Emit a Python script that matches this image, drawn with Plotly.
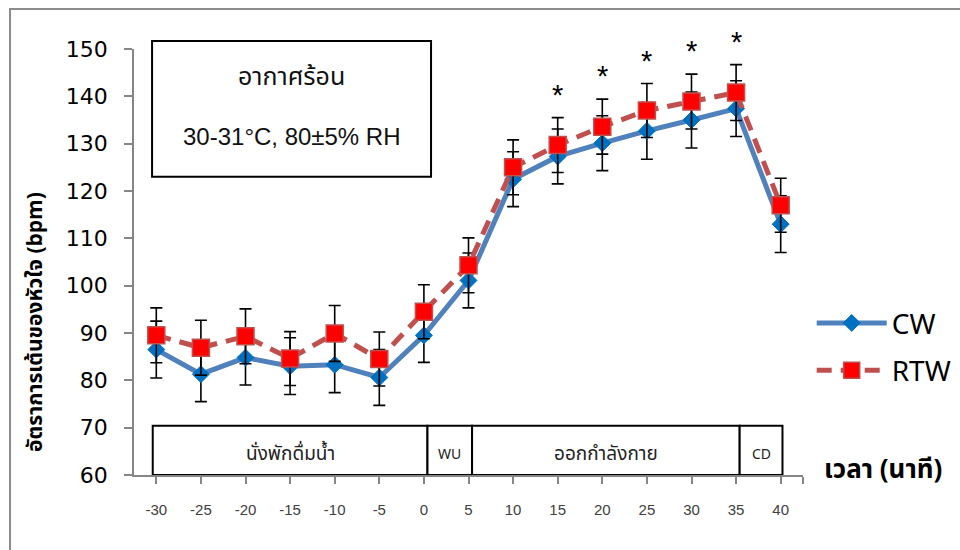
import plotly.graph_objects as go

# Heart rate over time (minutes), mean ± SD for two drinking conditions
minutes = [-30, -25, -20, -15, -10, -5, 0, 5, 10, 15, 20, 25, 30, 35, 40]
cw = [86.5, 81.3, 84.8, 83.0, 83.3, 80.6, 89.5, 101.1, 122.5, 127.3, 130.1, 132.7, 135.0, 137.4, 113.0]
cw_sd = [6.0, 5.8, 5.8, 6.0, 5.9, 5.9, 5.7, 5.8, 5.8, 5.8, 5.8, 6.0, 5.9, 5.9, 6.0]
rtw = [89.5, 86.9, 89.3, 84.6, 89.9, 84.5, 94.5, 104.3, 125.0, 129.7, 133.6, 137.0, 138.9, 140.8, 117.0]
rtw_sd = [5.8, 5.8, 5.8, 5.7, 5.9, 5.7, 5.7, 5.8, 5.8, 5.8, 5.8, 5.7, 5.8, 5.9, 5.7]

# Time points with a significant difference between conditions
sig_minutes = [15, 20, 25, 30, 35]

# Protocol phases shown as a band along the bottom of the plot
phase_labels = ["นั่งพักดื่มน้ำ", "WU", "ออกกำลังกาย", "CD"]
phase_edges = [-30.4, 0.4, 5.4, 35.4, 40.2]
phase_font = [19, 14, 19, 14]

x_ticks = [-30, -25, -20, -15, -10, -5, 0, 5, 10, 15, 20, 25, 30, 35, 40]
y_ticks = [60, 70, 80, 90, 100, 110, 120, 130, 140, 150]

THAI = "Tahoma, 'Noto Sans Thai', 'Loma', 'Garuda', sans-serif"
ARIAL = "'Liberation Sans', Arial, sans-serif"
DIGITS = "'DejaVu Sans', Tahoma, sans-serif"

fig = go.Figure()

fig.add_trace(go.Scatter(
    x=minutes, y=cw, name="CW", mode="lines+markers",
    line=dict(color="#4F81BD", width=5),
    marker=dict(symbol="diamond", size=13, color="#0070C0",
                line=dict(color="#0070C0", width=1)),
    error_y=dict(type="data", array=cw_sd, visible=True,
                 color="black", thickness=1.6, width=6),
    legendgroup="cw",
))
fig.add_trace(go.Scatter(
    x=minutes, y=rtw, name="RTW", mode="lines+markers",
    line=dict(color="#C0504D", width=5, dash="15px,9px"),
    marker=dict(symbol="square", size=17, color="#FF0000",
                line=dict(color="#C0504D", width=1.5)),
    error_y=dict(type="data", array=rtw_sd, visible=True,
                 color="black", thickness=1.6, width=6),
    legendgroup="rtw",
))

shapes = []
annotations = []

# Phase band boxes and their labels
for i, label in enumerate(phase_labels):
    x0, x1 = phase_edges[i], phase_edges[i + 1]
    shapes.append(dict(type="rect", xref="x", yref="y", x0=x0, x1=x1,
                       y0=60, y1=70.4, line=dict(color="black", width=2),
                       fillcolor="white", layer="below"))
    annotations.append(dict(x=(x0 + x1) / 2, y=65.2, xref="x", yref="y",
                            xanchor="center", yanchor="middle",
                            text=label, showarrow=False, yshift=-4,
                            font=dict(family=THAI, size=phase_font[i], color="#222")))

# Significance markers above the RTW error bars
for m in sig_minutes:
    i = minutes.index(m)
    annotations.append(dict(x=m, y=rtw[i] + rtw_sd[i], xref="x", yref="y",
                            xanchor="center", yanchor="middle",
                            text="*", showarrow=False, yshift=23,
                            font=dict(family=ARIAL, size=29, color="black")))

# Condition box in the upper left
shapes.append(dict(type="rect", xref="paper", yref="paper",
                   x0=0.027, x1=0.444, y0=0.700, y1=1.019,
                   line=dict(color="black", width=2), fillcolor="white"))
annotations.append(dict(x=0.2355, y=0.935, xref="paper", yref="paper",
                        xanchor="center", yanchor="middle",
                        text="อากาศร้อน", showarrow=False,
                        font=dict(family=THAI, size=25, color="#111")))
annotations.append(dict(x=0.2355, y=0.795, xref="paper", yref="paper",
                        xanchor="center", yanchor="middle",
                        text="30-31°C, 80±5% RH", showarrow=False,
                        font=dict(family=ARIAL, size=24, color="#111")))

# Outer chart border
shapes.append(dict(type="rect", xref="paper", yref="paper",
                   x0=-0.1853, x1=1.3, y0=-0.25, y1=1.094,
                   line=dict(color="#8c8c8c", width=2), fillcolor="rgba(0,0,0,0)"))

# Axis titles
annotations.append(dict(x=-0.148, y=0.359, xref="paper", yref="paper",
                        xanchor="center", yanchor="middle",
                        text="อัตราการเต้นของหัวใจ (bpm)", textangle=-90,
                        showarrow=False,
                        font=dict(family=THAI, size=21, color="black", weight="bold")))
annotations.append(dict(x=1.12, y=0.012, xref="paper", yref="paper",
                        xanchor="center", yanchor="middle",
                        text="เวลา (นาที)", showarrow=False,
                        font=dict(family=THAI, size=26, color="black", weight="bold")))

fig.update_layout(
    width=960, height=550, autosize=False,
    margin=dict(l=134, r=157, t=49, b=75, autoexpand=False),
    paper_bgcolor="white", plot_bgcolor="white",
    shapes=shapes, annotations=annotations,
    showlegend=True,
    legend=dict(x=1.013, y=0.415, xanchor="left", yanchor="top",
                font=dict(family=THAI, size=28, color="black"),
                itemwidth=70, tracegroupgap=8, traceorder="grouped",
                bgcolor="rgba(0,0,0,0)"),
    xaxis=dict(range=[-32.5, 42.5], tickvals=x_ticks + [42.5],
               ticktext=[str(t) for t in x_ticks] + [""],
               showgrid=False, zeroline=False, showline=True,
               linecolor="#868686", linewidth=1.5,
               ticks="outside", ticklen=7, tickcolor="#868686", tickwidth=1.5,
               ticklabelstandoff=13,
               tickfont=dict(family=ARIAL, size=15, color="#404040")),
    yaxis=dict(range=[60, 150], tickvals=y_ticks,
               showgrid=False, zeroline=False, showline=True,
               linecolor="#868686", linewidth=1.5,
               ticks="outside", ticklen=8, tickcolor="#868686", tickwidth=1.5,
               ticklabelstandoff=12,
               tickfont=dict(family=DIGITS, size=22, color="black")),
)

fig.write_html("out.html")
